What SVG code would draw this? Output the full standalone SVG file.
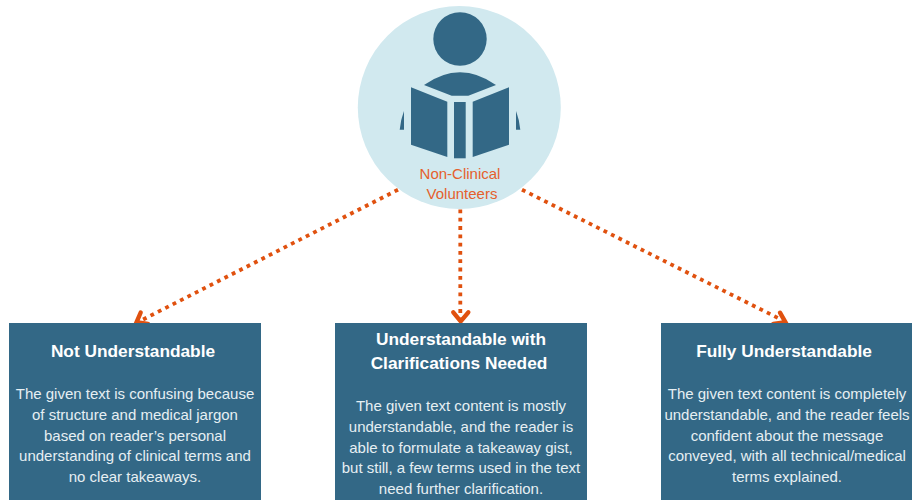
<svg xmlns="http://www.w3.org/2000/svg" width="912" height="500" viewBox="0 0 912 500">
<style>
.box{fill:#336886}
.icon{fill:#336886}
.t{font-family:"Liberation Sans",Arial,sans-serif;text-anchor:middle;fill:#fff}
.h{font-size:17.3px;font-weight:700}
.b{font-size:15px;fill:#e6eff3}
.lbl{font-family:"Liberation Sans",Arial,sans-serif;text-anchor:middle;fill:#e5602c;font-size:15px}
.dot{fill:none;stroke:#e0510f;stroke-width:3.8;stroke-dasharray:3.8 4.5}
.head{fill:none;stroke:#e0510f;stroke-width:4.4;stroke-linecap:round;stroke-linejoin:miter}
</style>
<rect width="912" height="500" fill="#fff"/>
<g id="volunteers">
<circle cx="459.300" cy="107.500" r="101.500" fill="#d1e9ef"/>
<circle class="icon" cx="460" cy="39" r="26.700"/>
<path class="icon" d="M424 85Q460 59.500 496 85L468.300 95.700H451.700Z"/>
<path class="icon" d="M411 87.300L447.300 101.700V157L411 144.700Z"/>
<path class="icon" d="M509 87.300L472.700 101.700V157L509 144.700Z"/>
<rect class="icon" x="454" y="102" width="11.700" height="56.300"/>
<path class="icon" d="M404 111Q400.500 120 399.700 129.700H404Z"/>
<path class="icon" d="M516 111Q519.500 120 520.300 129.700H516Z"/>
<text class="lbl" x="460" y="178.500">Non-Clinical</text>
<text class="lbl" x="462" y="199">Volunteers</text>
</g>
<g id="connectors">
<path class="dot" d="M398 189.700L142 320"/>
<path class="head" d="M140.700 312.500L136.500 322.300L148 324"/>
<path class="dot" d="M460.300 209.500V318"/>
<path class="head" d="M453.300 312.300L460.700 321.300L468.300 312.300"/>
<path class="dot" d="M522 189.700L780 319"/>
<path class="head" d="M780 312.700L785.500 322.300L773.300 324"/>
</g>
<g id="not-understandable">
<rect class="box" x="9" y="323" width="252" height="177"/>
<text class="t h" x="133" y="356.700">Not Understandable</text>
<text class="t b" x="135" y="398.700">The given text is confusing because</text>
<text class="t b" x="135" y="419.500">of structure and medical jargon</text>
<text class="t b" x="135" y="440.500">based on reader’s personal</text>
<text class="t b" x="135" y="461.300">understanding of clinical terms and</text>
<text class="t b" x="135" y="482">no clear takeaways.</text>
</g>
<g id="understandable-with-clarifications">
<rect class="box" x="335" y="323" width="252" height="177"/>
<text class="t h" x="461" y="345">Understandable with</text>
<text class="t h" x="459" y="369">Clarifications Needed</text>
<text class="t b" x="461" y="411">The given text content is mostly</text>
<text class="t b" x="461" y="431.500">understandable, and the reader is</text>
<text class="t b" x="461" y="452.500">able to formulate a takeaway gist,</text>
<text class="t b" x="461" y="473">but still, a few terms used in the text</text>
<text class="t b" x="461" y="494">need further clarification.</text>
</g>
<g id="fully-understandable">
<rect class="box" x="661" y="323" width="252" height="177"/>
<text class="t h" x="784" y="356.700">Fully Understandable</text>
<text class="t b" x="787" y="398.700">The given text content is completely</text>
<text class="t b" x="787" y="419.500">understandable, and the reader feels</text>
<text class="t b" x="787" y="440.500">confident about the message</text>
<text class="t b" x="787" y="461.300">conveyed, with all technical/medical</text>
<text class="t b" x="787" y="482">terms explained.</text>
</g>
</svg>
